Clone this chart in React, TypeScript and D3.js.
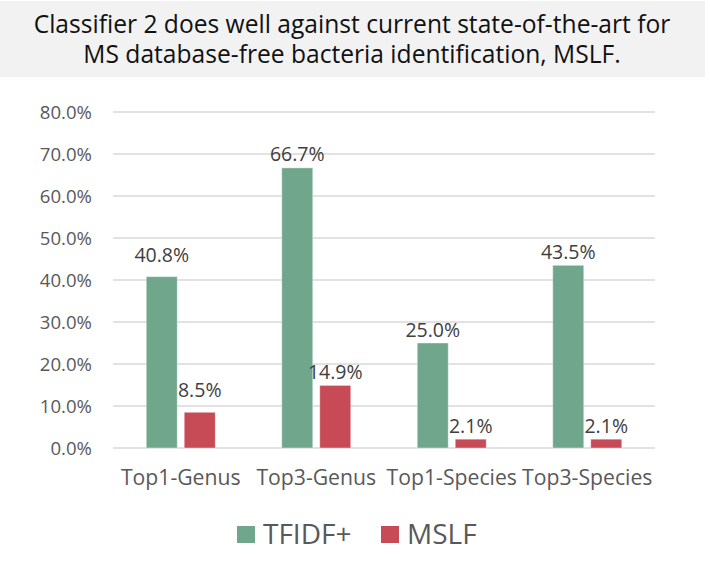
import React from "react";
import * as d3 from "d3";

const titleLines = [
  "Classifier 2 does well against current state-of-the-art for",
  "MS database-free bacteria identification, MSLF.",
];
const categories = ["Top1-Genus", "Top3-Genus", "Top1-Species", "Top3-Species"];
const seriesNames = ["TFIDF+", "MSLF"];
const tfidfValues = [40.8, 66.7, 25.0, 43.5];
const mslfValues = [8.5, 14.9, 2.1, 2.1];
const yTicks = [0, 10, 20, 30, 40, 50, 60, 70, 80];
const colors = ["#70a78c", "#c64b56"];

export default function App() {
  const W = 710;
  const H = 575;
  const plotLeft = 113;
  const plotRight = 655;
  const plotTop = 112;
  const plotBottom = 448;
  const font = "'Open Sans', 'Noto Sans', sans-serif";

  const x = d3.scaleBand<string>().domain(categories).range([plotLeft, plotRight]).padding(0);
  const y = d3.scaleLinear().domain([0, 80]).range([plotBottom, plotTop]);
  const series = [tfidfValues, mslfValues];
  const groupW = 69;
  const inner = d3
    .scaleBand<string>()
    .domain(seriesNames)
    .range([(x.bandwidth() - groupW) / 2, (x.bandwidth() + groupW) / 2])
    .paddingInner(0.184)
    .paddingOuter(0);
  const fmt = (v: number) => v.toFixed(1) + "%";

  return (
    <svg
      width={W}
      height={H}
      style={{ position: "absolute", left: 0, top: 0, background: "#fff" }}
      fontFamily={font}
    >
      <rect x={0} y={1} width={705} height={76} fill="#f2f2f2" />
      {titleLines.map((t, i) => (
        <text key={i} x={352} y={33 + i * 30} textAnchor="middle" fontSize={24.6} fill="#111">
          {t}
        </text>
      ))}
      {yTicks.map((t) => (
        <g key={t}>
          <line x1={plotLeft} x2={plotRight} y1={y(t)} y2={y(t)} stroke="#d9d9d9" strokeWidth={1.5} />
          <text x={92} y={y(t) + 6.5} textAnchor="end" fontSize={18.6} fill="#595959">
            {fmt(t)}
          </text>
        </g>
      ))}
      {categories.map((c, ci) => {
        const labelGap = ci === 0 ? 15 : 6.5;
        return (
          <g key={c}>
            {series.map((vals, si) => {
              const bx = (x(c) as number) + (inner(seriesNames[si]) as number);
              const bw = inner.bandwidth();
              return (
                <g key={si}>
                  <rect
                    x={bx}
                    y={y(vals[ci])}
                    width={bw}
                    height={plotBottom - y(vals[ci])}
                    fill={colors[si]}
                    stroke="#ffffff"
                    strokeOpacity={0.4}
                    strokeWidth={1}
                  />
                  <text
                    x={bx + bw / 2}
                    y={y(vals[ci]) - labelGap}
                    textAnchor="middle"
                    fontSize={19.5}
                    fill="#404040"
                  >
                    {fmt(vals[ci])}
                  </text>
                </g>
              );
            })}
            <text
              x={(x(c) as number) + x.bandwidth() / 2}
              y={485}
              textAnchor="middle"
              fontSize={21.2}
              fill="#595959"
            >
              {c}
            </text>
          </g>
        );
      })}
      <g>
        <rect x={237} y={526} width={18} height={17} fill={colors[0]} />
        <text x={263} y={544} fontSize={28} fill="#595959">
          {seriesNames[0]}
        </text>
        <rect x={381} y={526} width={18} height={17} fill={colors[1]} />
        <text x={407} y={544} fontSize={28} fill="#595959">
          {seriesNames[1]}
        </text>
      </g>
    </svg>
  );
}
